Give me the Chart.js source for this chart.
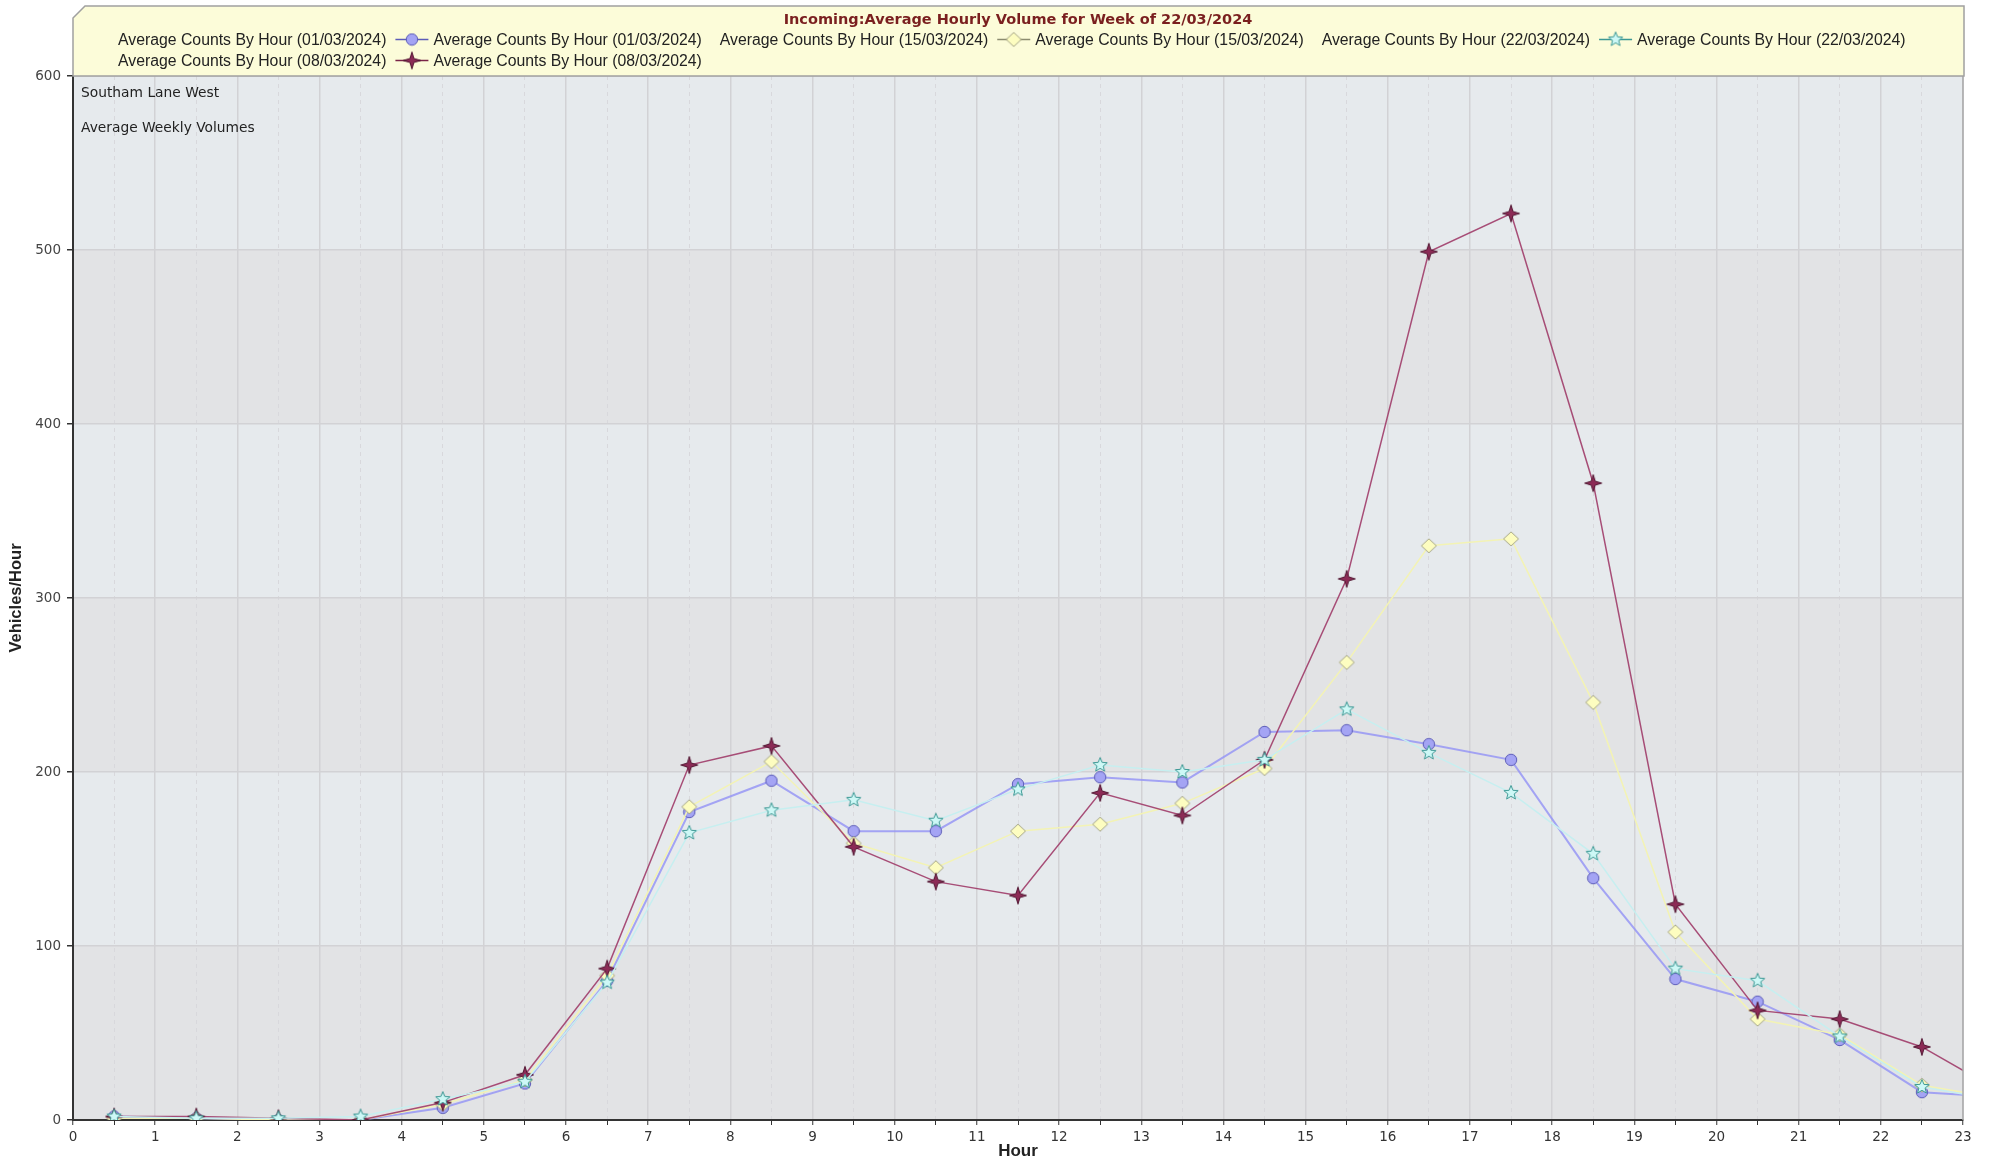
<!DOCTYPE html>
<html>
<head>
<meta charset="utf-8">
<title>Incoming: Average Hourly Volume</title>
<script src="https://cdn.jsdelivr.net/npm/chart.js@4.4.1/dist/chart.umd.min.js"></script>
<style>
  html, body { margin: 0; padding: 0; background: #fff; }
  canvas { display: block; }
</style>
</head>
<body>
<canvas id="volumeChart" width="1997" height="1164"></canvas>
<script>
// centre of each hourly bin
const hours = [0.5, 1.5, 2.5, 3.5, 4.5, 5.5, 6.5, 7.5, 8.5, 9.5, 10.5, 11.5,
               12.5, 13.5, 14.5, 15.5, 16.5, 17.5, 18.5, 19.5, 20.5, 21.5, 22.5, 23.5];

const seriesLabels = [
    "Average Counts By Hour (01/03/2024)",
    "Average Counts By Hour (15/03/2024)",
    "Average Counts By Hour (22/03/2024)",
    "Average Counts By Hour (08/03/2024)"
];

// vehicles per hour
const counts0103 = [2, 1, 0, 0, 7, 21, 80, 177, 195, 166, 166, 193, 197, 194, 223, 224, 216, 207, 139, 81, 68, 46, 16, 13];
const counts1503 = [1, 1, 0, 0, 9, 23, 83, 180, 206, 159, 145, 166, 170, 182, 202, 263, 330, 334, 240, 108, 58, 49, 20, 12];
const counts2203 = [2, 1, 1, 2, 12, 22, 79, 165, 178, 184, 172, 190, 204, 200, 207, 236, 211, 188, 153, 87, 80, 48, 19, 11];
const counts0803 = [2, 2, 1, 0, 10, 26, 87, 204, 215, 157, 137, 129, 188, 175, 207, 311, 499, 521, 366, 124, 63, 58, 42, 15];

const chartTitle = "Incoming:Average Hourly Volume for Week of 22/03/2024";
const notes = ["Southam Lane West", "Average Weekly Volumes"];
const yMax = 600;
const yStep = 100;

// petits canvas pour les marqueurs (cercle, losange, etoiles)
function makeMarker(size, draw) {
    const c = document.createElement("canvas");
    c.width = c.height = size;
    const g = c.getContext("2d");
    g.translate(size / 2, size / 2);
    draw(g);
    return c;
}

function starPath(g, points, outer, inner) {
    g.beginPath();
    for (let i = 0; i < points * 2; i++) {
        const r = i % 2 ? inner : outer;
        const a = -Math.PI / 2 + i * Math.PI / points;
        g.lineTo(r * Math.cos(a), r * Math.sin(a));
    }
    g.closePath();
}

const markerCircle = makeMarker(14, g => {
    g.beginPath();
    g.arc(0, 0, 5.7, 0, Math.PI * 2);
    g.fillStyle = "#a4a4f4";
    g.fill();
    g.lineWidth = 1;
    g.strokeStyle = "#5c5cb8";
    g.stroke();
});
const markerDiamond = makeMarker(18, g => {
    starPath(g, 2, 7, 7.5);
    g.fillStyle = "#fdfdc0";
    g.fill();
    g.lineWidth = 1;
    g.strokeStyle = "#a5a585";
    g.stroke();
});
const markerStar5 = makeMarker(18, g => {
    starPath(g, 5, 7.5, 3.3);
    g.fillStyle = "#cdf8f6";
    g.fill();
    g.lineWidth = 1;
    g.strokeStyle = "#3c9894";
    g.stroke();
});
const markerStar4 = makeMarker(20, g => {
    starPath(g, 4, 8.5, 2.8);
    g.fillStyle = "#8c2b56";
    g.fill();
    g.lineWidth = 1;
    g.strokeStyle = "#521632";
    g.stroke();
});

function toPoints(values) {
    return hours.map((h, i) => ({ x: h, y: values[i] }));
}

function isHalf(ctx) {
    return ctx.tick && !Number.isInteger(ctx.tick.value);
}

// fond en bandes, cadre de legende, titre et notes
const decorations = {
    id: "decorations",
    beforeDraw(chart) {
        const { ctx, chartArea: a, scales: { y } } = chart;
        ctx.save();
        for (let v = 0; v < yMax; v += yStep) {
            const top = y.getPixelForValue(v + yStep);
            const bottom = y.getPixelForValue(v);
            ctx.fillStyle = (v / yStep) % 2 ? "#e6eaed" : "#e2e3e5";
            ctx.fillRect(a.left, top, a.right - a.left, bottom - top);
        }
        ctx.restore();
    },
    afterDraw(chart) {
        const { ctx, chartArea: a } = chart;
        ctx.save();

        // bord droit du graphe
        ctx.strokeStyle = "#a8a8a8";
        ctx.lineWidth = 1.5;
        ctx.beginPath();
        ctx.moveTo(a.right, a.top);
        ctx.lineTo(a.right, a.bottom);
        ctx.stroke();

        // cadre jaune de la legende
        const bx = a.left, by = 6, br = a.right + 1, bb = a.top, cut = 12;
        ctx.beginPath();
        ctx.moveTo(bx, by + cut);
        ctx.lineTo(bx + cut, by);
        ctx.lineTo(br, by);
        ctx.lineTo(br, bb);
        ctx.lineTo(bx, bb);
        ctx.closePath();
        ctx.fillStyle = "#fcfcd9";
        ctx.fill();
        ctx.strokeStyle = "#a0a0a0";
        ctx.lineWidth = 1.5;
        ctx.stroke();

        // titre
        ctx.font = "bold 14.5px 'DejaVu Sans'";
        ctx.fillStyle = "#7a1f1f";
        ctx.textAlign = "center";
        ctx.textBaseline = "alphabetic";
        ctx.fillText(chartTitle, (a.left + a.right) / 2, 23.5);

        // legende : texte seul, puis -marqueur- texte
        ctx.font = "15.8px 'Liberation Sans', Arial, sans-serif";
        ctx.textAlign = "left";
        const legendLeft = 118;
        const baselines = [45, 66];
        let x = legendLeft, row = 0;
        chart.data.datasets.forEach(ds => {
            const tw = ctx.measureText(ds.label).width;
            const w = tw * 2 + 9 + 33 + 5;
            if (x + w > a.right) {
                row++;
                x = legendLeft;
            }
            const yb = baselines[row];
            ctx.fillStyle = "#222";
            ctx.fillText(ds.label, x, yb);
            const mx = x + tw + 9, my = yb - 5.5;
            ctx.strokeStyle = ds.legendLine;
            ctx.lineWidth = 1.5;
            ctx.beginPath();
            ctx.moveTo(mx, my);
            ctx.lineTo(mx + 33, my);
            ctx.stroke();
            const m = ds.pointStyle;
            ctx.drawImage(m, mx + 16.5 - m.width / 2, my - m.height / 2);
            ctx.fillStyle = "#222";
            ctx.fillText(ds.label, mx + 38, yb);
            x = mx + 38 + tw + 18;
        });

        // notes en haut a gauche
        ctx.font = "13.8px 'DejaVu Sans'";
        ctx.fillStyle = "#222";
        ctx.fillText(notes[0], a.left + 8, 96.5);
        ctx.fillText(notes[1], a.left + 8, 131.5);
        ctx.restore();
    }
};

const ctx = document.getElementById("volumeChart").getContext("2d");
const chart = new Chart(ctx, {
    type: "line",
    data: {
        datasets: [{
            label: seriesLabels[0],
            data: toPoints(counts0103),
            borderColor: "rgba(150, 150, 245, 0.85)",
            borderWidth: 2,
            pointStyle: markerCircle,
            legendLine: "#5c5cb8",
            order: 3
        }, {
            label: seriesLabels[1],
            data: toPoints(counts1503),
            borderColor: "#f3f3b4",
            borderWidth: 1.5,
            pointStyle: markerDiamond,
            legendLine: "#8c8c70",
            order: 2
        }, {
            label: seriesLabels[2],
            data: toPoints(counts2203),
            borderColor: "#c6eff0",
            borderWidth: 1.5,
            pointStyle: markerStar5,
            legendLine: "#3c9894",
            order: 0
        }, {
            label: seriesLabels[3],
            data: toPoints(counts0803),
            borderColor: "rgba(160, 60, 105, 0.9)",
            borderWidth: 1.5,
            pointStyle: markerStar4,
            legendLine: "#7a2448",
            order: 1
        }]
    },
    options: {
        responsive: false,
        animation: false,
        devicePixelRatio: 1,
        layout: {
            padding: { top: 76, right: 34, left: 0, bottom: 0 }
        },
        elements: {
            line: { tension: 0, fill: false },
            point: { radius: 7 }
        },
        plugins: {
            legend: { display: false },
            title: { display: false },
            tooltip: { enabled: false }
        },
        scales: {
            x: {
                type: "linear",
                min: 0,
                max: 23,
                afterFit: s => { s.height = 44; },
                ticks: {
                    stepSize: 0.5,
                    autoSkip: false,
                    maxRotation: 0,
                    padding: 4,
                    color: "#333",
                    font: { family: "DejaVu Sans", size: 13.5 },
                    callback: v => Number.isInteger(v) ? v : ""
                },
                grid: {
                    color: c => isHalf(c) ? "#d8d8dc" : "#d2d2d5",
                    lineWidth: c => isHalf(c) ? 1 : 1.5,
                    tickLength: 5,
                    tickColor: "#333",
                    tickWidth: 1
                },
                border: {
                    color: "#333",
                    width: 2,
                    dash: c => isHalf(c) ? [4, 4] : []
                },
                title: {
                    display: true,
                    text: "Hour",
                    color: "#222",
                    font: { family: "Liberation Sans", weight: "bold", size: 17 },
                    padding: { top: 0, bottom: 2 }
                }
            },
            y: {
                min: 0,
                max: yMax,
                afterFit: s => { s.width = 73; },
                ticks: {
                    stepSize: yStep,
                    padding: 6,
                    color: "#444",
                    font: { family: "DejaVu Sans", size: 13.5 }
                },
                grid: {
                    color: "#d2d2d5",
                    lineWidth: 1.5,
                    tickLength: 6,
                    tickColor: "#333"
                },
                border: { color: "#333", width: 2 },
                title: {
                    display: true,
                    text: "Vehicles/Hour",
                    color: "#222",
                    font: { family: "Liberation Sans", weight: "bold", size: 16.5 },
                    padding: { top: 7, bottom: 0 }
                }
            }
        }
    },
    plugins: [decorations]
});
</script>
</body>
</html>
